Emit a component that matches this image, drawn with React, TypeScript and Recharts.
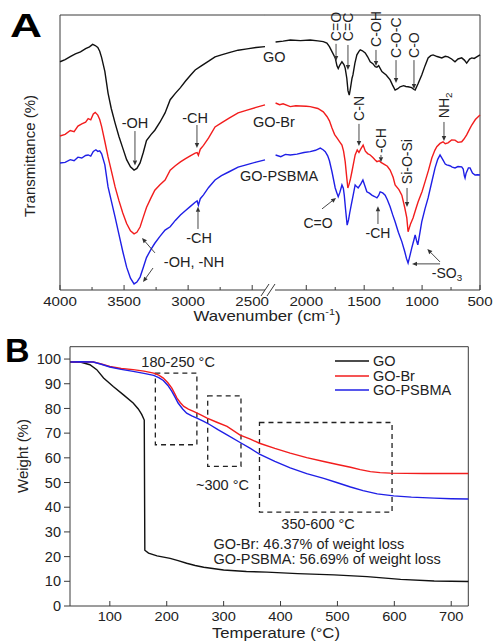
import React from 'react';
import {
  LineChart,
  Line,
  XAxis,
  YAxis,
  ReferenceLine,
  ReferenceDot,
  ReferenceArea,
  Legend,
} from 'recharts';

const FONT = '"Liberation Sans", Arial, Helvetica, sans-serif';
const INK = '#222222';
const FRAME = '#3a3a3a';
const GO_COLOR = '#111111';
const BR_COLOR = '#f21d1d';
const PS_COLOR = '#1f1fe6';

type Pair = [number, number];

// ---------- Panel A: FTIR spectra, [wavenumber (cm-1), transmittance (a.u.)] ----------
// 4000–2400 cm-1 segment
const goHigh: Pair[] = [
  [4000, 83.0], [3960, 83.8], [3920, 84.9], [3880, 85.9], [3840, 86.6], [3800, 87.8], [3770, 88.4],
  [3745, 89.3], [3725, 88.9], [3705, 88.2], [3690, 86.8], [3675, 84.5], [3650, 79.5], [3625, 71.6],
  [3600, 66.0], [3570, 60.7], [3540, 55.8], [3510, 51.6], [3480, 47.4], [3450, 44.8], [3422, 43.6],
  [3400, 44.2], [3375, 46.2], [3350, 50.0], [3325, 54.3], [3290, 56.5], [3260, 58.1], [3220, 61.0],
  [3180, 64.4], [3140, 69.2], [3100, 71.5], [3060, 73.6], [3020, 76.0], [2980, 78.2], [2945, 80.0],
  [2900, 81.4], [2840, 83.2], [2790, 84.8], [2740, 85.5], [2680, 86.3], [2610, 87.2], [2540, 87.7],
  [2470, 88.2], [2400, 88.5],
];
const brHigh: Pair[] = [
  [4000, 56.0], [3960, 56.6], [3920, 58.0], [3890, 57.6], [3860, 59.6], [3830, 60.4], [3800, 61.0],
  [3780, 62.3], [3760, 61.9], [3740, 64.0], [3725, 64.6], [3705, 63.6], [3690, 62.0], [3675, 59.4],
  [3650, 54.0], [3625, 48.4], [3600, 43.5], [3570, 37.5], [3540, 32.5], [3510, 28.0], [3480, 24.2],
  [3450, 21.5], [3422, 20.4], [3400, 21.0], [3375, 22.9], [3350, 26.5], [3325, 30.0], [3290, 33.5],
  [3260, 36.3], [3220, 38.3], [3180, 40.0], [3140, 43.6], [3100, 45.2], [3060, 46.6], [3020, 47.8],
  [2980, 48.9], [2945, 49.8], [2930, 50.0], [2920, 49.0], [2905, 51.2], [2880, 52.6], [2840, 55.3],
  [2790, 59.3], [2740, 60.8], [2680, 62.5], [2610, 64.4], [2540, 65.4], [2470, 66.4], [2400, 67.3],
];
const psHigh: Pair[] = [
  [4000, 46.2], [3960, 46.4], [3920, 47.4], [3890, 47.0], [3860, 48.3], [3830, 48.0], [3800, 48.9],
  [3780, 49.1], [3760, 48.7], [3740, 50.4], [3720, 51.0], [3705, 50.4], [3690, 50.6], [3675, 49.5],
  [3650, 45.5], [3625, 37.5], [3600, 32.5], [3570, 26.5], [3540, 20.2], [3510, 14.0], [3480, 8.3],
  [3450, 4.3], [3422, 2.2], [3400, 2.9], [3375, 4.7], [3350, 8.2], [3325, 11.8], [3290, 14.8],
  [3260, 17.0], [3220, 19.5], [3180, 21.8], [3140, 23.0], [3100, 25.3], [3060, 27.3], [3020, 28.9],
  [2980, 30.5], [2945, 31.9], [2930, 32.4], [2920, 30.8], [2905, 33.2], [2880, 34.6], [2840, 37.3],
  [2790, 40.0], [2740, 41.6], [2680, 43.0], [2610, 44.7], [2540, 45.6], [2470, 46.5], [2400, 47.3],
];

// 2265–500 cm-1 segment
const goLow: Pair[] = [
  [2265, 90.2], [2200, 90.5], [2138, 90.9], [2050, 90.7], [1966, 90.9], [1900, 90.6], [1853, 90.3],
  [1822, 89.8], [1800, 88.5], [1778, 86.7], [1750, 84.4], [1735, 81.5], [1724, 80.5], [1710, 81.8],
  [1692, 83.0], [1675, 82.0], [1664, 80.7], [1650, 77.0], [1640, 72.5], [1629, 70.9], [1618, 73.5],
  [1605, 77.0], [1597, 78.2], [1580, 82.5], [1563, 85.5], [1545, 86.8], [1534, 87.3], [1515, 87.0],
  [1491, 86.2], [1470, 84.8], [1448, 83.0], [1425, 82.3], [1405, 81.2], [1390, 81.0], [1375, 81.6],
  [1347, 79.4], [1310, 78.2], [1276, 76.4], [1255, 74.5], [1233, 72.7], [1210, 73.2], [1190, 73.9],
  [1160, 74.3], [1140, 74.0], [1121, 73.9], [1090, 73.6], [1070, 72.9], [1060, 72.7], [1035, 75.0],
  [1003, 78.2], [975, 81.5], [948, 84.4], [925, 85.2], [905, 85.5], [870, 84.9], [830, 84.4],
  [800, 85.0], [776, 84.8], [745, 84.0], [716, 83.0], [690, 84.0], [658, 84.4], [635, 83.6],
  [615, 82.5], [590, 84.0], [571, 84.4], [550, 84.2], [528, 84.8], [500, 85.5],
];
const brLow: Pair[] = [
  [2265, 68.0], [2230, 67.4], [2200, 67.7], [2138, 66.7], [2090, 67.0], [2050, 66.9], [2000, 66.8],
  [1966, 66.7], [1900, 66.0], [1853, 64.8], [1820, 63.0], [1800, 61.5], [1778, 58.9], [1755, 56.5],
  [1735, 55.3], [1710, 53.8], [1692, 52.7], [1678, 50.5], [1664, 46.7], [1652, 41.5], [1641, 37.1],
  [1630, 38.5], [1618, 40.5], [1606, 43.0], [1590, 46.5], [1578, 49.1], [1560, 50.9], [1545, 50.0],
  [1530, 51.2], [1509, 52.7], [1490, 50.5], [1470, 49.6], [1448, 49.1], [1425, 48.2], [1405, 47.3],
  [1390, 46.7], [1370, 47.0], [1355, 46.4], [1330, 45.8], [1300, 45.0], [1276, 43.6], [1250, 41.0],
  [1233, 38.2], [1200, 36.5], [1175, 34.5], [1150, 30.0], [1132, 26.2], [1121, 21.2], [1100, 24.0],
  [1078, 26.2], [1050, 30.0], [1034, 32.1], [1000, 35.8], [974, 39.4], [945, 43.5], [916, 48.0],
  [890, 50.8], [873, 52.1], [845, 53.3], [819, 53.9], [800, 53.2], [776, 53.5], [745, 54.6],
  [716, 54.5], [690, 53.7], [658, 53.9], [640, 54.8], [615, 56.4], [590, 58.5], [571, 60.0],
  [540, 62.0], [500, 63.6],
];
const psLow: Pair[] = [
  [2265, 49.1], [2220, 48.5], [2180, 49.3], [2138, 49.1], [2080, 49.4], [2020, 50.0], [1966, 50.3],
  [1920, 50.8], [1879, 51.6], [1855, 51.0], [1836, 50.3], [1815, 48.8], [1800, 47.0], [1778, 43.0],
  [1750, 37.1], [1735, 35.2], [1724, 33.9], [1710, 35.5], [1692, 38.2], [1680, 37.0], [1672, 34.5],
  [1660, 29.0], [1647, 23.6], [1635, 25.5], [1625, 28.0], [1612, 30.9], [1595, 34.5], [1578, 38.2],
  [1565, 37.6], [1552, 37.1], [1530, 38.5], [1511, 40.0], [1495, 38.0], [1477, 35.7], [1455, 35.2],
  [1434, 34.5], [1410, 34.0], [1390, 33.5], [1375, 34.4], [1362, 35.7], [1340, 35.3], [1319, 34.5],
  [1300, 32.8], [1276, 30.3], [1255, 27.5], [1233, 24.8], [1205, 21.0], [1175, 17.6], [1150, 14.0],
  [1135, 11.5], [1121, 9.8], [1105, 12.5], [1089, 15.3], [1072, 18.0], [1060, 20.0], [1048, 18.0],
  [1037, 16.4], [1020, 20.5], [1003, 24.8], [975, 29.5], [948, 33.5], [918, 39.0], [888, 44.4],
  [865, 47.5], [845, 49.1], [820, 47.3], [800, 45.8], [787, 45.5], [760, 45.2], [740, 44.7],
  [716, 44.4], [690, 44.9], [658, 44.8], [645, 44.0], [635, 41.5], [629, 40.7], [620, 42.5],
  [600, 44.4], [586, 44.4], [565, 42.5], [543, 41.8], [520, 41.9], [500, 41.8],
];

const highTicks = [4000, 3750, 3500, 3250, 3000, 2750, 2500];
const lowTicks = [2000, 1750, 1500, 1250, 1000, 750, 500];

// Band assignments: anchor [wavenumber, transmittance]
type Note = { at: Pair; text: string; sub?: string; vertical?: boolean; anchor?: 'start' | 'middle' | 'end' };
type Pointer = { from: Pair; to: Pair };

const highNotes: Note[] = [
  { at: [3415, 60.7], text: '-OH' },
  { at: [2946, 62.5], text: '-CH' },
  { at: [2915, 18.9], text: '-CH' },
  { at: [2954, 10.2], text: '-OH, -NH' },
  { at: [2416, 84.7], text: 'GO', anchor: 'start' },
  { at: [2494, 61.1], text: 'GO-Br', anchor: 'start' },
  { at: [2595, 41.5], text: 'GO-PSBMA', anchor: 'start' },
];
const highPointers: Pointer[] = [
  { from: [3415, 57.8], to: [3415, 45.3] },
  { from: [2931, 60.0], to: [2931, 51.6] },
  { from: [2923, 22.2], to: [2923, 30.3] },
  { from: [3259, 13.5], to: [3360, 18.9] },
  { from: [3274, 8.0], to: [3352, 2.9] },
];
const lowNotes: Note[] = [
  { at: [1743, 90.5], text: 'C=O', vertical: true },
  { at: [1640, 90.5], text: 'C=C', vertical: true },
  { at: [1398, 88.4], text: 'C-OH', vertical: true },
  { at: [1225, 84.4], text: 'C-O-C', vertical: true },
  { at: [1070, 84.4], text: 'C-O', vertical: true },
  { at: [1545, 61.5], text: 'C-N', vertical: true },
  { at: [1355, 49.8], text: '-CH', vertical: true },
  { at: [1130, 38.5], text: 'Si-O-Si', vertical: true },
  { at: [811, 62.5], text: 'NH', sub: '2', vertical: true },
  { at: [1899, 24.4], text: 'C=O' },
  { at: [1381, 20.7], text: '-CH' },
  { at: [785, 6.2], text: '-SO', sub: '3' },
];
const lowPointers: Pointer[] = [
  { from: [1743, 89.5], to: [1743, 83.3] },
  { from: [1640, 89.1], to: [1640, 80.0] },
  { from: [1398, 87.3], to: [1398, 81.5] },
  { from: [1225, 83.6], to: [1225, 75.3] },
  { from: [1070, 83.6], to: [1070, 73.1] },
  { from: [1545, 60.4], to: [1545, 52.4] },
  { from: [1355, 49.1], to: [1355, 46.5] },
  { from: [1130, 37.1], to: [1130, 30.2] },
  { from: [811, 61.1], to: [811, 54.2] },
  { from: [1864, 29.5], to: [1743, 33.5] },
  { from: [1381, 24.0], to: [1381, 30.5] },
  { from: [845, 10.2], to: [955, 14.9] },
  { from: [845, 9.5], to: [1087, 9.5] },
];

// ---------- Panel B: TGA curves, [temperature (°C), weight (%)] ----------
const GO_BR_LOSS = 46.37;
const GO_PSBMA_LOSS = 56.69;

const goTga: Pair[] = [
  [30, 98.8], [48, 98.8], [65, 97.7], [77, 95.7], [89, 92.3], [106, 88.9], [124, 85.5], [141, 82.2],
  [150, 79.8], [156, 77.6], [160.5, 75.3], [161.5, 22.6], [168, 21.4], [183, 20.3], [206, 19.3],
  [220, 18.4], [235, 17.3], [250, 16.4], [265, 15.7], [300, 14.6], [340, 14.0], [376, 13.7],
  [430, 13.1], [494, 12.6], [552, 11.9], [611, 10.8], [670, 10.1], [730, 9.9],
];
const brTga: Pair[] = [
  [30, 98.8], [50, 98.9], [71, 98.8], [85, 98.0], [100, 97.0], [120, 96.2], [141, 95.7], [160, 95.1],
  [177, 94.3], [186, 93.5], [194, 92.3], [202, 90.4], [209, 88.2], [214, 86.0], [218, 84.2],
  [224, 82.3], [230, 80.8], [238, 79.7], [247, 78.8], [259, 77.5], [271, 76.1], [288, 74.4],
  [306, 72.7], [329, 69.2], [347, 67.6], [363, 65.9], [390, 63.8], [417, 61.9], [446, 60.1],
  [476, 58.5], [500, 57.3], [523, 56.2], [540, 55.2], [558, 54.4], [575, 54.0], [593, 53.8],
  [620, 53.7], [652, 53.65], [690, 53.63], [730, 100 - GO_BR_LOSS],
];
const psTga: Pair[] = [
  [30, 98.8], [50, 98.9], [71, 98.8], [85, 97.9], [100, 96.8], [120, 95.8], [141, 95.0], [160, 94.2],
  [177, 93.4], [186, 92.5], [194, 91.3], [202, 89.3], [209, 86.9], [215, 84.4], [220, 82.2],
  [228, 79.8], [235, 78.1], [244, 77.0], [253, 76.1], [265, 74.8], [276, 73.4], [290, 71.4],
  [306, 69.3], [329, 66.2], [347, 63.8], [363, 61.5], [390, 58.6], [417, 55.9], [446, 53.6],
  [476, 51.7], [500, 49.9], [523, 48.2], [545, 46.7], [570, 45.4], [599, 44.6], [630, 44.1],
  [670, 43.7], [700, 43.45], [730, 100 - GO_PSBMA_LOSS],
];

const tempTicks = [100, 200, 300, 400, 500, 600, 700];
const weightTicks = [0, 10, 20, 30, 40, 50, 60, 70, 80, 90, 100];

// Decomposition windows: [T start, T end, W low, W high]
const stageBoxes: [number, number, number, number][] = [
  [180, 253, 65.3, 94.3],
  [272, 330.5, 56.5, 85.1],
  [363, 596, 38.0, 74.3],
];
const tgaNotes: Note[] = [
  { at: [220, 98.9], text: '180-250 °C' },
  { at: [298, 49.0], text: '~300 °C' },
  { at: [466, 33.1], text: '350-600 °C' },
  { at: [282, 25.1], text: `GO-Br: ${GO_BR_LOSS}% of weight loss`, anchor: 'start' },
  { at: [282, 19.0], text: `GO-PSBMA: ${GO_PSBMA_LOSS}% of weight loss`, anchor: 'start' },
];

const spectrum = (arr: Pair[]) => arr.map(([wn, t]) => ({ wn, t }));
const thermo = (arr: Pair[]) => arr.map(([temp, w]) => ({ temp, w }));

// Horizontal stretch applied to axis lettering (wide sans look)
const wide = (cx: number, k: number) => `translate(${cx},0) scale(${k},1) translate(${-cx},0)`;

// ---------- drawing helpers ----------
const noteShape = (n: Note, size = 14.5) => (p: any) => {
  const { cx, cy } = p;
  const anchor = n.anchor ?? (n.vertical ? 'start' : 'middle');
  const sub = n.sub ? (
    <tspan fontSize={size * 0.7} dy={4}>
      {n.sub}
    </tspan>
  ) : null;
  return (
    <text
      x={cx}
      y={cy}
      textAnchor={anchor}
      dominantBaseline="central"
      fontSize={size}
      fontFamily={FONT}
      fill={INK}
      transform={n.vertical ? `rotate(-90, ${cx}, ${cy})` : undefined}
    >
      {n.text}
      {sub}
    </text>
  );
};

const ArrowShape = (p: any) => {
  const { x1, y1, x2, y2 } = p;
  if ([x1, y1, x2, y2].some((v) => typeof v !== 'number' || Number.isNaN(v))) return <g />;
  const ang = Math.atan2(y2 - y1, x2 - x1);
  const len = 5;
  const half = 2.2;
  const bx = x2 - len * Math.cos(ang);
  const by = y2 - len * Math.sin(ang);
  const px = -Math.sin(ang) * half;
  const py = Math.cos(ang) * half;
  return (
    <g>
      <line x1={x1} y1={y1} x2={bx} y2={by} stroke="#333" strokeWidth={0.9} />
      <polygon points={`${x2},${y2} ${bx + px},${by + py} ${bx - px},${by - py}`} fill="#333" />
    </g>
  );
};

const WaveTick = (props: any) => {
  const { x, y, payload } = props;
  const major = payload.value % 500 === 0;
  return (
    <g>
      <line x1={x} x2={x} y1={y} y2={y - (major ? 5 : 3)} stroke={FRAME} strokeWidth={1} />
      {major ? (
        <text
          x={x}
          y={y + 11.5}
          textAnchor="middle"
          dominantBaseline="central"
          fontSize={13.5}
          fill={INK}
          fontFamily={FONT}
          transform={wide(x, 1.12)}
        >
          {payload.value}
        </text>
      ) : null}
    </g>
  );
};

const TempTick = (props: any) => {
  const { x, y, payload } = props;
  return (
    <g>
      <line x1={x} x2={x} y1={y} y2={y - 5} stroke={FRAME} strokeWidth={1} />
      <text
        x={x}
        y={y + 10.5}
        textAnchor="middle"
        dominantBaseline="central"
        fontSize={13.5}
        fill={INK}
        fontFamily={FONT}
        transform={wide(x, 1.08)}
      >
        {payload.value}
      </text>
    </g>
  );
};

const renderNotes = (notes: Note[], keyBase: string, size?: number) =>
  notes.map((n, i) => (
    <ReferenceDot
      key={`${keyBase}-n${i}`}
      x={n.at[0]}
      y={n.at[1]}
      r={0}
      ifOverflow="visible"
      shape={noteShape(n, size)}
    />
  ));

const renderPointers = (pointers: Pointer[], keyBase: string) =>
  pointers.map((pt, i) => (
    <ReferenceLine
      key={`${keyBase}-p${i}`}
      segment={[
        { x: pt.from[0], y: pt.from[1] },
        { x: pt.to[0], y: pt.to[1] },
      ]}
      ifOverflow="visible"
      shape={ArrowShape}
    />
  ));

const lineProps = {
  type: 'linear' as const,
  dataKey: 't',
  dot: false,
  isAnimationActive: false,
  strokeWidth: 1.4,
};

const TgaLegend = (props: any) => {
  const items = (props.payload || []) as any[];
  return (
    <div style={{ fontFamily: FONT, fontSize: 14.5, color: INK }}>
      {items.map((it) => (
        <div key={it.value} style={{ display: 'flex', alignItems: 'center', height: 14.6, lineHeight: '14.6px' }}>
          <svg width={34} height={4} style={{ display: 'block' }}>
            <line x1={0} x2={34} y1={2} y2={2} stroke={it.color} strokeWidth={1.4} />
          </svg>
          <span style={{ marginLeft: 4, whiteSpace: 'nowrap' }}>{it.value}</span>
        </div>
      ))}
    </div>
  );
};

export default function App() {
  return (
    <div
      style={{
        position: 'absolute',
        left: 0,
        top: 0,
        width: 496,
        height: 641,
        background: '#ffffff',
        overflow: 'hidden',
        fontFamily: FONT,
      }}
    >
      {/* Panel A, high-wavenumber side of the broken axis */}
      <div style={{ position: 'absolute', left: 0, top: 0 }}>
        <LineChart width={496} height={330} margin={{ top: 15, right: 231, left: 60, bottom: 10 }}>
          <XAxis
            type="number"
            dataKey="wn"
            domain={[2400, 4000]}
            reversed
            ticks={highTicks}
            interval={0}
            tickSize={0}
            tickMargin={0}
            tickLine={false}
            tick={<WaveTick />}
            axisLine={{ stroke: FRAME }}
            height={30}
          />
          <YAxis type="number" domain={[0, 100]} hide />
          <ReferenceLine x={4000} stroke={FRAME} />
          <ReferenceLine y={100} stroke={FRAME} />
          <Line {...lineProps} data={spectrum(goHigh)} stroke={GO_COLOR} name="GO" />
          <Line {...lineProps} data={spectrum(brHigh)} stroke={BR_COLOR} name="GO-Br" />
          <Line {...lineProps} data={spectrum(psHigh)} stroke={PS_COLOR} name="GO-PSBMA" />
          {renderPointers(highPointers, 'hi')}
          {renderNotes(highNotes, 'hi')}
        </LineChart>
      </div>

      {/* Panel A, fingerprint side of the broken axis */}
      <div style={{ position: 'absolute', left: 0, top: 0 }}>
        <LineChart width={496} height={330} margin={{ top: 15, right: 16, left: 275, bottom: 10 }}>
          <XAxis
            type="number"
            dataKey="wn"
            domain={[500, 2270]}
            reversed
            ticks={lowTicks}
            interval={0}
            tickSize={0}
            tickMargin={0}
            tickLine={false}
            tick={<WaveTick />}
            axisLine={{ stroke: FRAME }}
            height={30}
          />
          <YAxis type="number" domain={[0, 100]} hide />
          <ReferenceLine x={500} stroke={FRAME} />
          <ReferenceLine
            segment={[
              { x: 2357, y: 100 },
              { x: 500, y: 100 },
            ]}
            ifOverflow="visible"
            stroke={FRAME}
          />
          <Line {...lineProps} data={spectrum(goLow)} stroke={GO_COLOR} name="GO" />
          <Line {...lineProps} data={spectrum(brLow)} stroke={BR_COLOR} name="GO-Br" />
          <Line {...lineProps} data={spectrum(psLow)} stroke={PS_COLOR} name="GO-PSBMA" />
          {renderPointers(lowPointers, 'lo')}
          {renderNotes(lowNotes, 'lo', 14)}
        </LineChart>
      </div>

      {/* Panel B: thermogravimetric curves */}
      <div style={{ position: 'absolute', left: 0, top: 330 }}>
        <LineChart width={496} height={311} margin={{ top: 16.7, right: 27.7, left: 0, bottom: 0 }}>
          <XAxis
            type="number"
            dataKey="temp"
            domain={[30, 730]}
            ticks={tempTicks}
            interval={0}
            tickSize={0}
            tickMargin={0}
            tickLine={false}
            tick={<TempTick />}
            axisLine={{ stroke: FRAME }}
            height={35}
          />
          <YAxis
            type="number"
            domain={[0, 105]}
            ticks={weightTicks}
            interval={0}
            width={70}
            tickSize={6}
            tickMargin={3}
            tickLine={{ stroke: FRAME }}
            axisLine={{ stroke: FRAME }}
            tick={{ fontSize: 14.5, fill: INK, fontFamily: FONT }}
          />
          <ReferenceLine y={105} stroke={FRAME} />
          <ReferenceLine x={730} stroke={FRAME} />
          {stageBoxes.map(([x1, x2, y1, y2], i) => (
            <ReferenceArea
              key={`box${i}`}
              x1={x1}
              x2={x2}
              y1={y1}
              y2={y2}
              fill="none"
              fillOpacity={0}
              stroke="#222"
              strokeWidth={1.3}
              strokeDasharray="5 4"
            />
          ))}
          <Line type="linear" dataKey="w" data={thermo(goTga)} stroke={GO_COLOR} name="GO" dot={false} strokeWidth={1.4} isAnimationActive={false} />
          <Line type="linear" dataKey="w" data={thermo(brTga)} stroke={BR_COLOR} name="GO-Br" dot={false} strokeWidth={1.4} isAnimationActive={false} />
          <Line type="linear" dataKey="w" data={thermo(psTga)} stroke={PS_COLOR} name="GO-PSBMA" dot={false} strokeWidth={1.4} isAnimationActive={false} />
          {renderNotes(tgaNotes, 'tga', 14.5)}
          <Legend
            layout="horizontal"
            verticalAlign="middle"
            align="center"
            content={<TgaLegend />}
            wrapperStyle={{ left: 335, top: 24, width: 160, height: 48 }}
          />
        </LineChart>
      </div>

      {/* Panel letters, axis titles and axis break */}
      <svg
        width={496}
        height={641}
        style={{ position: 'absolute', left: 0, top: 0, pointerEvents: 'none' }}
      >
        <text x={10} y={37} fontSize={34} fontWeight="bold" fontFamily={FONT} fill="#000" textLength={32} lengthAdjust="spacingAndGlyphs">
          A
        </text>
        <text x={5} y={362} fontSize={34} fontWeight="bold" fontFamily={FONT} fill="#000">
          B
        </text>
        <text
          x={29}
          y={156}
          fontSize={15}
          fontFamily={FONT}
          fill={INK}
          textAnchor="middle"
          dominantBaseline="central"
          transform="rotate(-90, 29, 156)"
        >
          Transmittance (%)
        </text>
        <text
          x={267}
          y={316.5}
          fontSize={14}
          fontFamily={FONT}
          fill={INK}
          textAnchor="middle"
          dominantBaseline="central"
          transform={wide(267, 1.2)}
        >
          Wavenumber (cm
          <tspan fontSize={9} dy={-5}>
            -1
          </tspan>
          <tspan dy={5}>)</tspan>
        </text>
        <text
          x={22}
          y={456}
          fontSize={15}
          fontFamily={FONT}
          fill={INK}
          textAnchor="middle"
          dominantBaseline="central"
          transform="rotate(-90, 22, 456)"
        >
          Weight (%)
        </text>
        <text
          x={276}
          y={632.8}
          fontSize={14.5}
          fontFamily={FONT}
          fill={INK}
          textAnchor="middle"
          dominantBaseline="central"
          transform={wide(276, 1.15)}
        >
          Temperature (°C)
        </text>
        <line x1={261} y1={296} x2={269} y2={284} stroke={FRAME} strokeWidth={1} />
        <line x1={267} y1={296} x2={275} y2={284} stroke={FRAME} strokeWidth={1} />
      </svg>
    </div>
  );
}
